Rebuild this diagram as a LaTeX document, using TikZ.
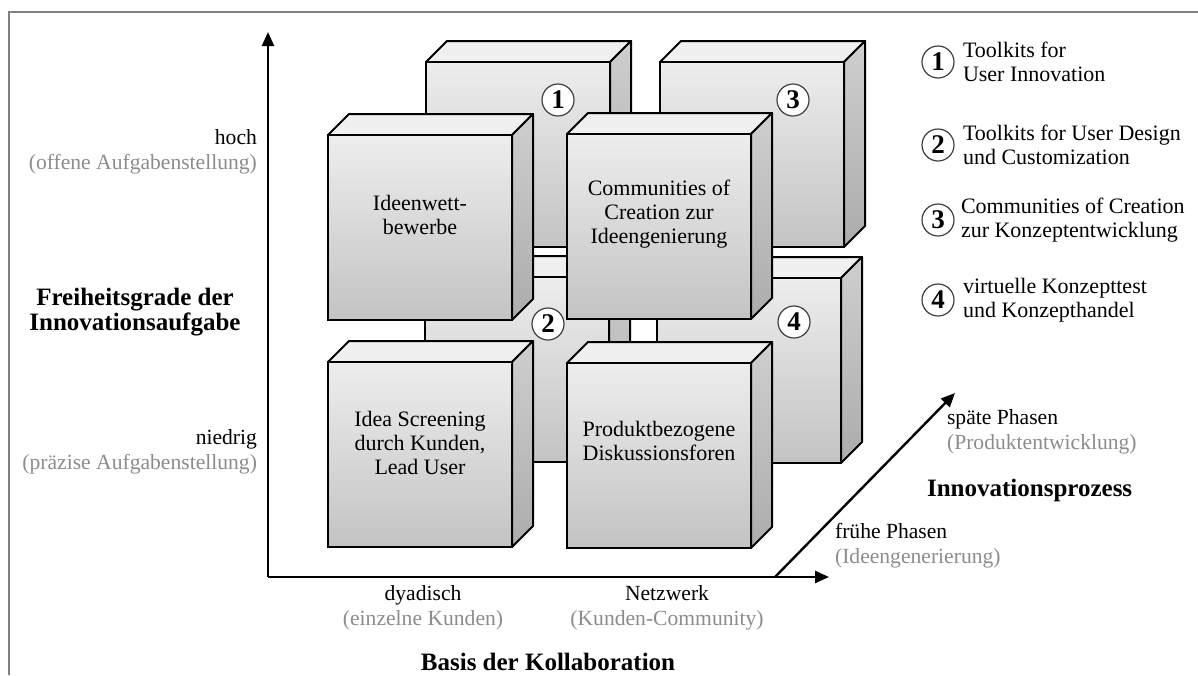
\documentclass[tikz,border=0pt]{standalone}
\usepackage{fontspec}
\setmainfont{Liberation Serif}
\usetikzlibrary{positioning,arrows.meta}

\definecolor{labelgray}{HTML}{8C8C8C}
\definecolor{framegray}{HTML}{808080}

\tikzset{
  topface/.style={draw=black,line width=1pt,line join=round,fill=gray!12},
  sideface/.style={draw=black,line width=1pt,line join=round,top color=gray!38,bottom color=gray!65},
  frontface/.style={draw=black,line width=1pt,top color=gray!14,bottom color=gray!47,
    minimum width=92pt,minimum height=92.5pt,inner sep=0pt,outer sep=0pt},
  cubetext/.style={align=center,font=\fontsize{11}{12}\selectfont},
  nr/.style={circle,draw=black!75,fill=white,line width=0.6pt,minimum size=16pt,inner sep=0pt,
    font=\fontsize{13.5}{13.5}\selectfont\bfseries},
  legend/.style={align=left,inner sep=1pt,font=\fontsize{11}{12}\selectfont},
  axislabel/.style={font=\fontsize{10.8}{12.5}\selectfont},
  axistitle/.style={align=center,font=\fontsize{12.5}{12.5}\selectfont\bfseries},
  axis/.style={line width=1.2pt,-{Triangle[length=7pt,width=6pt]}}
}

% #1,#2: upper left corner of the front face, #3: node name
\newcommand{\wuerfel}[3]{%
  \filldraw[topface] (#1,#2) -- ++(21,-21) -- ++(184,0) -- ++(-21,21) -- cycle;
  \filldraw[sideface] (#1+184,#2) -- ++(21,-21) -- ++(0,185) -- ++(-21,21) -- cycle;
  \node[frontface,anchor=north west] (#3) at (#1,#2) {};
}

\begin{document}
\begin{tikzpicture}[x=0.5pt,y=-0.5pt]
    \useasboundingbox (0,0) rectangle (1198,675);

    % Frame
    \draw[framegray,line width=1pt] (9,675) -- (9,12) -- (1198,12);

    % Axes
    \coordinate (origin) at (268,577);
    \coordinate (yend) at (268,32);
    \coordinate (xend) at (829,577);
    \coordinate (zstart) at (775,577);
    \coordinate (zend) at (955,393);
    \draw[axis] (origin) -- (yend);
    \draw[axis] (origin) -- (xend);
    \draw[axis] (zstart) -- (zend);

    % Back cubes
    \wuerfel{426}{62}{cube1}
    \wuerfel{660}{62}{cube3}
    \wuerfel{425}{277}{cube2}
    \wuerfel{657}{278}{cube4}
    \node[nr] (n1) at (558,100) {1};
    \node[nr] (n3) at (793,100) {3};
    \node[nr] (n2) at (548,324) {2};
    \node[nr] (n4) at (794,322) {4};

    % Front cubes
    \wuerfel{328}{135}{ideen}
    \wuerfel{567}{134}{comm}
    \wuerfel{328}{362}{screen}
    \wuerfel{567}{363}{forum}
    \node[cubetext] (t-ideen) at ([yshift=-40pt]ideen.north) {Ideenwett-\\bewerbe};
    \node[cubetext] (t-comm) at ([yshift=-40pt]comm.north) {Communities of\\Creation zur\\Ideengenierung};
    \node[cubetext] (t-screen) at ([yshift=-40.5pt]screen.north) {Idea Screening\\durch Kunden,\\Lead User};
    \node[cubetext] (t-forum) at ([yshift=-39pt]forum.north) {Produktbezogene\\Diskussionsforen};

    % Vertical axis labels
    \node[axislabel,align=right,anchor=east] (hoch) at (264,152)
        {hoch\\\textcolor{labelgray}{(offene Aufgabenstellung)}};
    \node[axislabel,align=right,anchor=east] (niedrig) at (264,452)
        {niedrig\\\textcolor{labelgray}{(präzise Aufgabenstellung)}};
    \node[axistitle] (freiheit) at (135,312) {Freiheitsgrade der\\Innovationsaufgabe};

    % Horizontal axis labels
    \node[axislabel,align=center] (dyad) at (423,608) {dyadisch\\\textcolor{labelgray}{(einzelne Kunden)}};
    \node[axislabel,align=center] (netz) at (667,608) {Netzwerk\\\textcolor{labelgray}{(Kunden-Community)}};
    \node[axistitle] (basis) at (548,662) {Basis der Kollaboration};

    % Diagonal axis labels
    \node[axislabel,align=left,anchor=west] (spaet) at (940,432) {späte Phasen\\\textcolor{labelgray}{(Produktentwicklung)}};
    \node[axistitle,anchor=west] (prozess) at (920,490) {Innovationsprozess};
    \node[axislabel,align=left,anchor=west] (frueh) at (828,546) {frühe Phasen\\\textcolor{labelgray}{(Ideengenerierung)}};

    % Legend
    \node[nr] (l1) at (938,62) {1};
    \node[nr] (l2) at (938,145) {2};
    \node[nr] (l3) at (938,220) {3};
    \node[nr] (l4) at (938,300) {4};
    \node[legend,right=3pt of l1] (leg1) {Toolkits for\\User Innovation};
    \node[legend,right=3pt of l2] (leg2) {Toolkits for User Design\\und Customization};
    \node[legend,right=2pt of l3] (leg3) {Communities of Creation\\zur Konzeptentwicklung};
    \node[legend,right=3pt of l4] (leg4) {virtuelle Konzepttest\\und Konzepthandel};

\end{tikzpicture}
\end{document}
